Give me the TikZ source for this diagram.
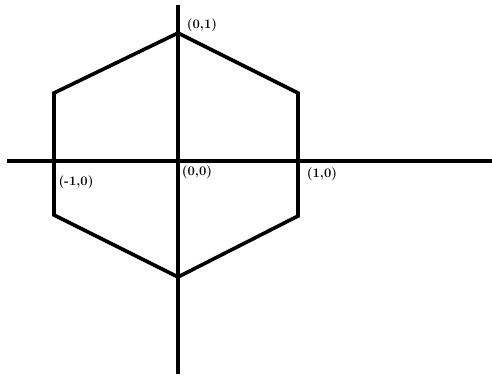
\documentclass[tikz,border=0pt]{standalone}
\usepackage{fontspec}
\begin{document}
\begin{tikzpicture}[x=1pt,y=-1pt,
  axis/.style={line width=3.6pt},
  hexa/.style={line width=3.6pt, line join=miter},
  lbl/.style={font=\fontsize{13}{15}\selectfont\bfseries\addfontfeatures{Numbers=OldStyle}, inner sep=0pt}]
\useasboundingbox (0,0) rectangle (492,375);
\fill[white] (0,0) rectangle (492,375);
% axes
\coordinate (xl) at (7,161);
\coordinate (xr) at (492,161);
\coordinate (yt) at (178,5);
\coordinate (yb) at (178,374);
\draw[axis] (xl) -- (xr);
\draw[axis] (yt) -- (yb);
% hexagon
\coordinate (top) at (178,33);
\coordinate (ur) at (298,93);
\coordinate (lr) at (298,216);
\coordinate (bot) at (178,277);
\coordinate (ll) at (54,215);
\coordinate (ul) at (54,93);
\draw[hexa] (top) -- (ur) -- (lr) -- (bot) -- (ll) -- (ul) -- cycle;
% labels
\node[lbl] (l01) at (202,25) {(0,1)};
\node[lbl] (lm10) at (76,182) {(-1,0)};
\node[lbl] (l00) at (197,172) {(0,0)};
\node[lbl] (l10) at (322,174) {(1,0)};
\end{tikzpicture}
\end{document}
